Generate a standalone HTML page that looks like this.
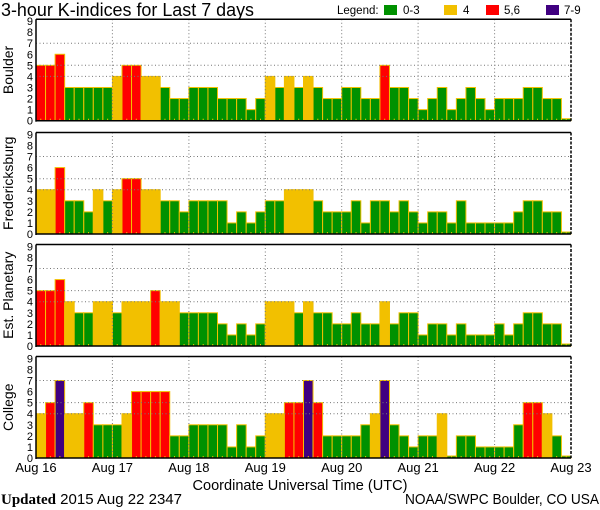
<!DOCTYPE html>
<html><head><meta charset="utf-8">
<style>
html,body{margin:0;padding:0;background:#fff;}
svg{display:block;font-family:"Liberation Sans",sans-serif;}
</style></head>
<body>
<svg id="s" width="600" height="510" xmlns="http://www.w3.org/2000/svg">
<text x="1" y="16" font-size="18" fill="#000" textLength="253" lengthAdjust="spacingAndGlyphs">3-hour K-indices for Last 7 days</text>
<text x="337" y="14" font-size="11.5">Legend:</text>
<rect x="384" y="5" width="13" height="10" fill="#009100"/><text x="403" y="14" font-size="11.5">0-3</text>
<rect x="444" y="5" width="13" height="10" fill="#f2c000"/><text x="463" y="14" font-size="11.5">4</text>
<rect x="486" y="5" width="13" height="10" fill="#ff0000"/><text x="504" y="14" font-size="11.5">5,6</text>
<rect x="546" y="5" width="13" height="10" fill="#400080"/><text x="564" y="14" font-size="11.5">7-9</text>
<g id="g"></g>
<text x="300" y="490" font-size="14.5" text-anchor="middle" textLength="215" lengthAdjust="spacingAndGlyphs">Coordinate Universal Time (UTC)</text>
<text x="1" y="504" font-size="15"><tspan font-family="Liberation Serif" font-weight="bold" font-size="15">Updated</tspan> 2015 Aug 22 2347</text>
<text x="599" y="504" font-size="14.5" text-anchor="end" textLength="194" lengthAdjust="spacingAndGlyphs">NOAA/SWPC Boulder, CO USA</text>
</svg>
<script>
var data=[
["Boulder",120.7,[5,5,6,3,3,3,3,3,4,5,5,4,4,3,2,2,3,3,3,2,2,2,1,2,4,3,4,3,4,3,2,2,3,3,2,2,5,3,3,2,1,2,3,1,2,3,2,1,2,2,2,3,3,2,2,0]],
["Fredericksburg",234,[4,4,6,3,3,2,4,3,4,5,5,4,4,3,3,2,3,3,3,3,1,2,1,2,3,3,4,4,4,3,2,2,2,3,1,3,3,2,3,2,1,2,2,1,3,1,1,1,1,1,2,3,3,2,2,0]],
["Est. Planetary",346,[5,5,6,4,3,3,4,4,3,4,4,4,5,4,4,3,3,3,3,2,1,2,1,2,4,4,4,3,4,3,3,2,2,3,2,2,4,2,3,3,1,2,2,1,2,1,1,1,2,1,2,3,3,2,2,0]],
["College",458,[4,5,7,4,4,5,3,3,3,4,6,6,6,6,2,2,3,3,3,3,1,3,1,2,4,4,5,5,7,5,2,2,2,2,3,4,7,3,2,1,2,2,4,0,2,2,1,1,1,1,3,5,5,4,2,0]]
];
var L=36,R=571,bw=(R-L)/56,u=11.07,H=101.5,s="";
function col(v){return v<=3?"#009100":v==4?"#f2c000":v<=6?"#ff0000":"#400080";}
data.forEach(function(p,pi){
 var b=p[1],t=b-H;
 p[2].forEach(function(v,i){
  var h=v==0?2:v*u,x=L+i*bw;
  s+='<rect x="'+x.toFixed(2)+'" y="'+(b-h).toFixed(2)+'" width="'+bw.toFixed(2)+'" height="'+h.toFixed(2)+'" fill="'+col(v)+'" stroke="#f2c000" stroke-width="1"/>';
  s+='<line x1="'+(x+bw/2).toFixed(2)+'" y1="'+(b-2)+'" x2="'+(x+bw/2).toFixed(2)+'" y2="'+b+'" stroke="#f2c000" stroke-width="1"/>';
 });
 [4,5,7].forEach(function(k){var y=(b-k*u).toFixed(1);s+='<line x1="'+L+'" y1="'+y+'" x2="'+R+'" y2="'+y+'" stroke="#777" stroke-dasharray="1,2.5"/>';});
 for(var d=1;d<7;d++){var x=(L+d*bw*8).toFixed(1);s+='<line x1="'+x+'" y1="'+t+'" x2="'+x+'" y2="'+b+'" stroke="#777" stroke-dasharray="1,2.5"/>';}
 s+='<line x1="'+L+'" y1="'+t+'" x2="'+R+'" y2="'+t+'" stroke="#000" stroke-width="1.5"/>';
 s+='<line x1="'+L+'" y1="'+t+'" x2="'+L+'" y2="'+(b+1)+'" stroke="#000" stroke-width="1.5"/>';
 s+='<line x1="'+L+'" y1="'+b+'" x2="'+R+'" y2="'+b+'" stroke="#000" stroke-width="1.5"/>';
 s+='<line x1="'+R+'" y1="'+t+'" x2="'+R+'" y2="'+b+'" stroke="#000" stroke-width="1.5" stroke-dasharray="3,1.5"/>';
 for(var k=0;k<=9;k++){s+='<text x="33" y="'+(b-k*u+4).toFixed(1)+'" font-size="11" text-anchor="end">'+k+'</text>';}
 var cy=(b-H/2);
 s+='<text transform="translate(13,'+cy+') rotate(-90)" font-size="14" text-anchor="middle">'+p[0]+'</text>';
});
var days=["Aug 16","Aug 17","Aug 18","Aug 19","Aug 20","Aug 21","Aug 22","Aug 23"];
days.forEach(function(d,i){s+='<text x="'+(L+i*bw*8).toFixed(1)+'" y="472" font-size="13" text-anchor="middle">'+d+'</text>';});
document.getElementById("g").innerHTML=s;
</script>
</body></html>
